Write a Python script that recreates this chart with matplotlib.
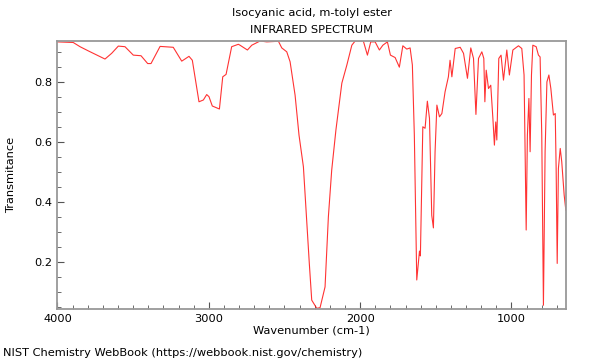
import numpy as np
import matplotlib
matplotlib.use("Agg")
import matplotlib.pyplot as plt
from matplotlib.ticker import MultipleLocator

# --- spectrum (wavenumber in cm-1, transmittance) ---
wavenumber = [
    4000, 3950, 3896, 3851, 3796, 3730, 3686, 3642, 3598, 3554,
    3499, 3448, 3404, 3382, 3322, 3235, 3179, 3131, 3109, 3065,
    3036, 3014, 2999, 2977, 2930, 2908, 2886, 2849, 2805, 2794,
    2745, 2716, 2661, 2617, 2540, 2518, 2485, 2463, 2445, 2430,
    2404, 2375, 2336, 2320, 2287, 2265, 2232, 2210, 2188, 2160,
    2121, 2088, 2055, 2033, 1979, 1952, 1930, 1901, 1873, 1850,
    1820, 1800, 1769, 1741, 1718, 1692, 1670, 1655, 1642, 1626,
    1608, 1602, 1586, 1571, 1556, 1542, 1527, 1516, 1505, 1493,
    1476, 1460, 1439, 1417, 1406, 1394, 1372, 1339, 1317, 1291,
    1269, 1251, 1235, 1218, 1196, 1183, 1176, 1167, 1152, 1137,
    1123, 1113, 1104, 1097, 1084, 1069, 1053, 1031, 1014, 991,
    954, 932, 917, 910, 903, 895, 885, 877, 868, 859,
    837, 822, 811, 800, 789, 778, 766, 753, 740, 723,
    711, 705, 698, 690, 678, 668, 652, 641,
]
transmittance = [
    0.932, 0.931, 0.930, 0.916, 0.902, 0.886, 0.875, 0.894, 0.918, 0.916,
    0.888, 0.886, 0.860, 0.860, 0.917, 0.914, 0.868, 0.884, 0.871, 0.733,
    0.739, 0.757, 0.750, 0.719, 0.709, 0.816, 0.824, 0.916, 0.924, 0.921,
    0.905, 0.921, 0.935, 0.932, 0.934, 0.912, 0.899, 0.866, 0.805, 0.755,
    0.622, 0.517, 0.196, 0.074, 0.047, 0.049, 0.118, 0.351, 0.506, 0.640,
    0.795, 0.855, 0.921, 0.935, 0.935, 0.888, 0.932, 0.932, 0.905, 0.921,
    0.932, 0.888, 0.880, 0.848, 0.919, 0.908, 0.912, 0.855, 0.622, 0.141,
    0.237, 0.221, 0.650, 0.645, 0.735, 0.678, 0.356, 0.314, 0.567, 0.722,
    0.683, 0.694, 0.766, 0.816, 0.871, 0.816, 0.910, 0.914, 0.894, 0.811,
    0.912, 0.877, 0.691, 0.877, 0.899, 0.877, 0.733, 0.838, 0.777, 0.788,
    0.678, 0.589, 0.666, 0.606, 0.877, 0.888, 0.805, 0.905, 0.822, 0.905,
    0.919, 0.910, 0.822, 0.567, 0.307, 0.622, 0.744, 0.567, 0.822, 0.921,
    0.916, 0.888, 0.882, 0.622, 0.057, 0.567, 0.799, 0.822, 0.777, 0.689,
    0.694, 0.512, 0.196, 0.512, 0.578, 0.534, 0.423, 0.373,
]

fs = 8.2

fig = plt.figure(figsize=(6, 3.6), dpi=100)
ax = fig.add_axes([0.0958, 0.142, 0.8475, 0.745])

ax.plot(wavenumber, transmittance, color="red", lw=0.8, alpha=0.8)

ax.set_xlim(4000, 640)
ax.set_ylim(0.045, 0.936)
ax.xaxis.set_major_locator(MultipleLocator(1000))
ax.xaxis.set_minor_locator(MultipleLocator(100))
ax.yaxis.set_major_locator(MultipleLocator(0.2))
ax.yaxis.set_minor_locator(MultipleLocator(0.05))
ax.tick_params(which="both", direction="in", labelsize=fs, color="#555555")
ax.tick_params(which="major", length=5)
ax.tick_params(which="minor", length=3)

for side in ax.spines:
    ax.spines[side].set_color("#999999")
    ax.spines[side].set_linewidth(1.3)

ax.set_xlabel("Wavenumber (cm-1)", fontsize=fs, labelpad=1)
ax.set_ylabel("Transmitance", fontsize=fs, labelpad=13)

# two-line title, placed like the reference
xc = 0.0958 + 0.8475 / 2
fig.text(xc, 1 - 13 / 360, "Isocyanic acid, m-tolyl ester", fontsize=fs, ha="center", va="center")
fig.text(xc, 1 - 30 / 360, "INFRARED SPECTRUM", fontsize=fs, ha="center", va="center")
fig.text(0.005, 0.01, "NIST Chemistry WebBook (https://webbook.nist.gov/chemistry)", fontsize=fs)

fig.savefig("out.png", dpi=100)
